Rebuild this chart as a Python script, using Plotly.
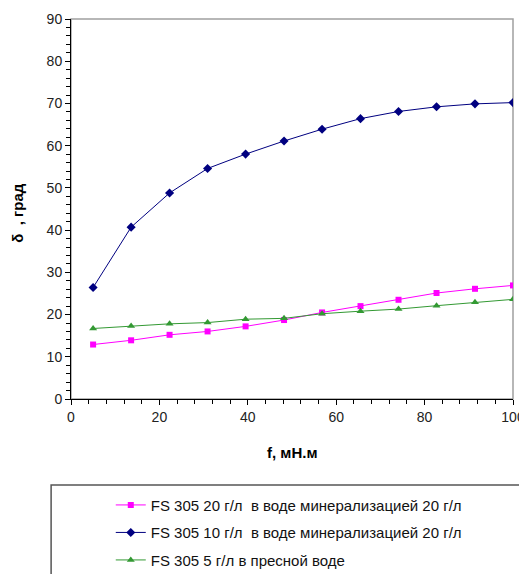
import plotly.graph_objects as go

f_vals = [5, 13.6, 22.3, 30.9, 39.5, 48.2, 56.8, 65.5, 74.1, 82.7, 91.4, 100]
s20_min20 = [12.9, 13.9, 15.2, 16.0, 17.2, 18.7, 20.5, 22.0, 23.5, 25.1, 26.1, 26.9]
s10_min20 = [26.4, 40.7, 48.8, 54.6, 58.0, 61.1, 63.9, 66.4, 68.1, 69.2, 69.9, 70.2]
s5_fresh = [16.7, 17.3, 17.8, 18.1, 18.9, 19.1, 20.2, 20.8, 21.3, 22.1, 22.9, 23.6]
names = ["FS 305 20 г/л  в воде минерализацией 20 г/л",
         "FS 305 10 г/л  в воде минерализацией 20 г/л",
         "FS 305 5 г/л в пресной воде"]
x_ticks = [0, 20, 40, 60, 80, 100]

fig = go.Figure()
fig.add_trace(go.Scatter(x=f_vals, y=s20_min20, name=names[0], mode="lines+markers",
                         line=dict(color="#FF00FF", width=1),
                         marker=dict(symbol="square", size=6, color="#FF00FF"),
                         legendgroup="a"))
fig.add_trace(go.Scatter(x=f_vals, y=s10_min20, name=names[1], mode="lines+markers",
                         line=dict(color="#000080", width=1),
                         marker=dict(symbol="diamond", size=7, color="#000080"),
                         legendgroup="b"))
fig.add_trace(go.Scatter(x=f_vals, y=s5_fresh, name=names[2], mode="lines+markers",
                         line=dict(color="#339933", width=1),
                         marker=dict(symbol="triangle-up", size=7, color="#339933"),
                         legendgroup="c"))

font = "Liberation Sans, Arial, sans-serif"
fig.update_layout(
    width=519, height=574,
    margin=dict(l=71, r=6, t=19, b=175, autoexpand=False),
    paper_bgcolor="white", plot_bgcolor="white",
    font=dict(family=font, size=14, color="#000"),
    xaxis=dict(range=[0, 100], tickvals=x_ticks, ticktext=[str(v) for v in x_ticks],
               showgrid=False, zeroline=False, ticklabeloverflow="allow",
               showline=True, linecolor="#000", linewidth=1,
               ticks="outside", ticklen=5, tickcolor="#000",
               minor=dict(dtick=4, tick0=0, ticks="outside", ticklen=4, tickcolor="#000"),
               tickfont=dict(size=14, color="#222")),
    yaxis=dict(range=[0, 90], dtick=10, tick0=0, showgrid=False, zeroline=False,
               showline=True, linecolor="#000", linewidth=1,
               ticks="outside", ticklen=5, tickcolor="#000",
               minor=dict(dtick=2, ticks="outside", ticklen=4, tickcolor="#000"),
               tickfont=dict(size=14, color="#222")),
    showlegend=True,
    legend=dict(x=0.09, y=-0.236, xanchor="left", yanchor="top",
                bgcolor="rgba(0,0,0,0)", borderwidth=0,
                font=dict(size=15, color="#111"), tracegroupgap=5,
                itemwidth=30),
    shapes=[
        dict(type="rect", xref="x domain", yref="y domain", x0=0, x1=1, y0=0, y1=1,
             line=dict(color="#A0A0A0", width=1.5), layer="below"),
        dict(type="rect", xref="paper", yref="paper", x0=-0.045, x1=1.05, y0=-0.226, y1=-0.5,
             line=dict(color="#555", width=1.5)),
    ],
    annotations=[
        dict(text="<b>f, мН.м</b>", xref="paper", yref="paper", x=0.5, y=-0.142,
             xanchor="center", yanchor="middle", showarrow=False, font=dict(size=15)),
        dict(text="<b>δ  , град</b>", xref="paper", yref="paper", x=-0.12, y=0.49,
             xanchor="center", yanchor="middle", showarrow=False, textangle=-90,
             font=dict(size=15)),
    ],
)

fig.write_html("out.html")
